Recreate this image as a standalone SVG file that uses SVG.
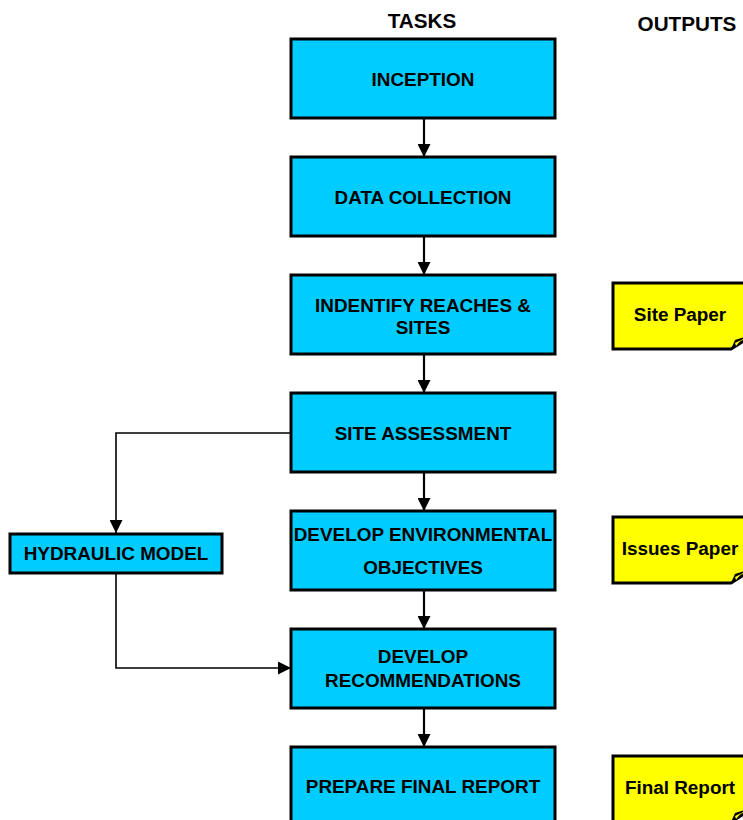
<svg xmlns="http://www.w3.org/2000/svg" width="743" height="820" viewBox="0 0 743 820">
<style>
.task{fill:#00CCFF;stroke:#000;stroke-width:3}
.note{fill:#FFFF00;stroke:#000;stroke-width:3}
.t{font-family:"Liberation Sans",Arial,sans-serif;font-weight:bold;font-size:18.9px;fill:#000;text-anchor:middle}
.h{font-family:"Liberation Sans",Arial,sans-serif;font-weight:bold;font-size:20.7px;fill:#000;text-anchor:middle}
.c{fill:none;stroke:#000;stroke-width:2.2}
.c2{fill:none;stroke:#000;stroke-width:1.6}
</style>
<defs>
<marker id="ah" markerUnits="userSpaceOnUse" markerWidth="13" markerHeight="13" viewBox="0 0 13 13" refX="13" refY="6.5" orient="auto">
<path d="M0,0 L13,6.5 L0,13 Z" fill="#000"/>
</marker>
</defs>
<rect width="743" height="820" fill="#fff"/>
<text class="h" x="422" y="28">TASKS</text>
<text class="h" x="687" y="31">OUTPUTS</text>
<g id="connectors">
<line class="c" x1="424" y1="118" x2="424" y2="157" marker-end="url(#ah)"/>
<line class="c" x1="424" y1="236" x2="424" y2="275" marker-end="url(#ah)"/>
<line class="c" x1="424" y1="354" x2="424" y2="393" marker-end="url(#ah)"/>
<line class="c" x1="424" y1="472" x2="424" y2="511" marker-end="url(#ah)"/>
<line class="c" x1="424" y1="590" x2="424" y2="629" marker-end="url(#ah)"/>
<line class="c" x1="424" y1="708" x2="424" y2="747" marker-end="url(#ah)"/>
<polyline class="c2" points="291,433 116,433 116,533" marker-end="url(#ah)"/>
<polyline class="c2" points="116,573 116,668 291,668" marker-end="url(#ah)"/>
</g>
<g id="inception"><rect class="task" x="291" y="39" width="264" height="79"/><text class="t" x="423" y="86">INCEPTION</text></g>
<g id="data-collection"><rect class="task" x="291" y="157" width="264" height="79"/><text class="t" x="423" y="204">DATA COLLECTION</text></g>
<g id="identify-reaches"><rect class="task" x="291" y="275" width="264" height="79"/><text class="t" x="423" y="312">INDENTIFY REACHES &amp;</text><text class="t" x="423" y="334">SITES</text></g>
<g id="site-assessment"><rect class="task" x="291" y="393" width="264" height="79"/><text class="t" x="423" y="440">SITE ASSESSMENT</text></g>
<g id="develop-env"><rect class="task" x="291" y="511" width="264" height="79"/><text class="t" x="423" y="541">DEVELOP ENVIRONMENTAL</text><text class="t" x="423" y="574">OBJECTIVES</text></g>
<g id="develop-rec"><rect class="task" x="291" y="629" width="264" height="79"/><text class="t" x="423" y="663">DEVELOP</text><text class="t" x="423" y="687">RECOMMENDATIONS</text></g>
<g id="final-report"><rect class="task" x="291" y="747" width="264" height="79"/><text class="t" x="423" y="793">PREPARE FINAL REPORT</text></g>
<g id="hydraulic-model"><rect class="task" x="10" y="534" width="212" height="39"/><text class="t" x="116" y="560">HYDRAULIC MODEL</text></g>
<g id="site-paper"><path class="note" d="M613,283 H750 V337 L731,349 H613 Z"/><path d="M731,349 L735,340 L745,337 Z" fill="#000"/><path d="M735,343 L741,340 L736,346 Z" fill="#FFFF00"/><text class="t" x="680" y="321">Site Paper</text></g>
<g id="issues-paper"><path class="note" d="M613,517 H750 V571 L731,583 H613 Z"/><path d="M731,583 L735,574 L745,571 Z" fill="#000"/><path d="M735,577 L741,574 L736,580 Z" fill="#FFFF00"/><text class="t" x="680" y="555">Issues Paper</text></g>
<g id="final-report-note"><path class="note" d="M613,756 H750 V810 L731,822 H613 Z"/><path d="M731,822 L735,813 L745,810 Z" fill="#000"/><path d="M735,816 L741,813 L736,819 Z" fill="#FFFF00"/><text class="t" x="680" y="794">Final Report</text></g>
</svg>
